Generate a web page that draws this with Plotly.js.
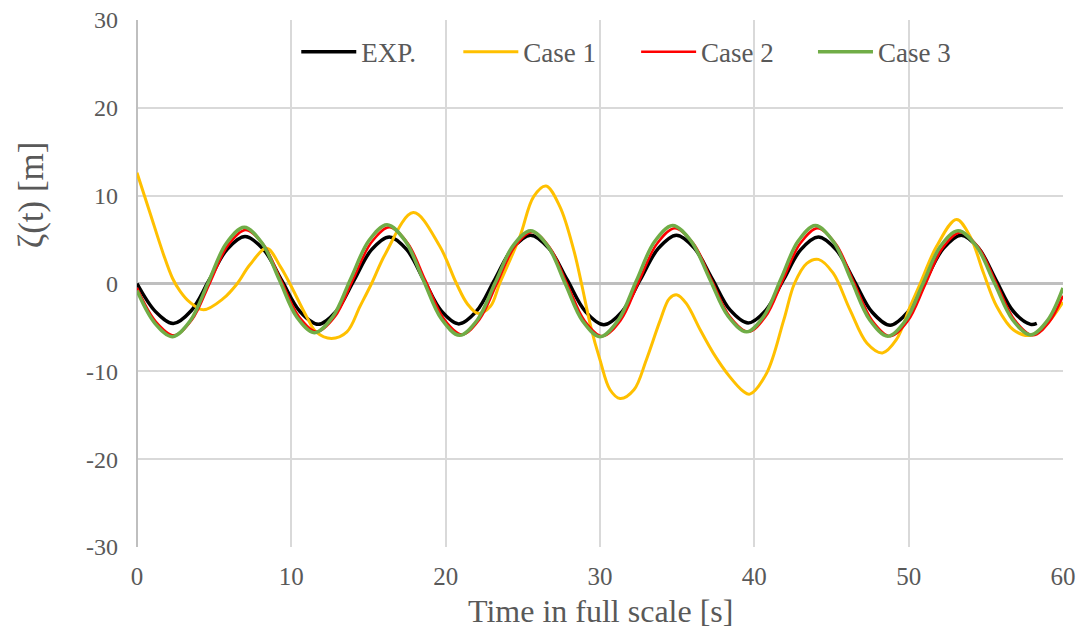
<!DOCTYPE html>
<html>
<head>
<meta charset="utf-8">
<script src="https://cdn.plot.ly/plotly-3.0.1.min.js"></script>
<style>
html,body{margin:0;padding:0;background:#fff;}
#chart{width:1079px;height:637px;}
#chart .xtick text, #chart .ytick text {font-family: "Liberation Serif", "Times New Roman", serif !important;}
</style>
</head>
<body>
<div id="chart"></div>
<script>
// EXP. (experiment)
const expT = [0,1.2,2.35,3.51,4.68,5.84,7.0,8.19,9.38,10.56,11.75,12.9,14.05,15.2,16.35,17.48,18.6,19.73,20.85,22.01,23.18,24.34,25.5,26.69,27.88,29.06,30.25,31.43,32.6,33.78,34.95,36.11,37.28,38.44,39.6,40.74,41.88,43.01,44.15,45.31,46.48,47.64,48.8,49.95,51.1,52.25,53.4,54.53,55.65,56.78,57.9,58.3];
const expV = [0,-3.2,-4.55,-3.1,0.4,3.9,5.35,3.89,0.35,-3.19,-4.65,-3.19,0.33,3.85,5.3,3.85,0.35,-3.15,-4.6,-3.12,0.45,4.02,5.5,4.0,0.4,-3.2,-4.7,-3.2,0.4,4.0,5.5,4.04,0.5,-3.04,-4.5,-3.06,0.4,3.86,5.3,3.83,0.28,-3.27,-4.75,-3.24,0.38,4.0,5.5,4.02,0.43,-3.16,-4.65,-4.55];

// Case 1
const case1T = [0,0.85,1.7,2.3,2.8,3.4,4.3,5.6,6.5,7.3,8.4,9.3,9.9,11.0,11.6,12.6,13.6,14.45,15.2,16.1,17.9,19.6,20.7,21.4,22.1,22.9,23.5,24.8,25.7,26.5,27.4,28.3,28.8,29.4,30.0,30.65,31.3,32.2,33.0,33.9,34.5,35.0,35.6,36.5,37.35,38.4,39.3,39.7,40.8,41.9,42.6,43.4,44.15,45.1,46.2,47.3,48.3,49.2,50.1,50.75,51.8,53.1,54.0,54.85,55.7,56.8,57.9,59.0,60.0];
const case1V = [12.6,8.0,3.4,0.6,-0.9,-2.1,-3.0,-1.7,0,2.1,4.0,1.9,0,-3.8,-5.5,-6.25,-5.5,-2.6,0,3.4,8.07,4.3,0,-2.3,-3.4,-2.6,0,5.3,9.9,11.1,8.75,3.8,0,-4.9,-8.7,-12.1,-13.1,-12.1,-8.7,-4.2,-1.7,-1.3,-2.3,-5.3,-7.95,-10.6,-12.3,-12.6,-10.2,-4.2,0,2.3,2.75,1.2,-3.0,-6.8,-7.9,-6.4,-2.6,0,4.2,7.3,5.3,1.2,-2.6,-5.3,-5.9,-4.5,-2.1];

// Case 2
const case2T = [0,1.2,2.4,3.56,4.73,5.89,7.05,8.2,9.35,10.5,11.65,12.83,14.0,15.18,16.35,17.53,18.7,19.88,21.05,22.19,23.33,24.46,25.6,26.74,27.88,29.01,30.15,31.33,32.5,33.68,34.85,36.04,37.23,38.41,39.6,40.73,41.85,42.98,44.1,45.28,46.45,47.63,48.8,49.94,51.08,52.21,53.35,54.53,55.7,56.88,58.05,59.1,60.0];
const case2V = [-0.5,-4.3,-5.9,-4.14,0.1,4.34,6.1,4.4,0.3,-3.8,-5.5,-3.76,0.45,4.66,6.4,4.61,0.3,-4.01,-5.8,-4.09,0.03,4.15,5.85,4.11,-0.08,-4.27,-6.0,-4.2,0.15,4.5,6.3,4.57,0.4,-3.77,-5.5,-3.77,0.4,4.57,6.3,4.5,0.15,-4.2,-6.0,-4.27,-0.1,4.07,5.8,4.09,-0.05,-4.19,-5.9,-4.4,-1.4];

// Case 3
const case3T = [0,1.15,2.3,3.46,4.63,5.79,6.95,8.09,9.23,10.36,11.5,12.68,13.85,15.03,16.2,17.38,18.55,19.73,20.9,22.05,23.2,24.35,25.5,26.63,27.75,28.88,30.0,31.18,32.35,33.53,34.7,35.9,37.1,38.3,39.5,40.61,41.73,42.84,43.95,45.13,46.3,47.48,48.65,49.79,50.93,52.06,53.2,54.38,55.55,56.73,57.9,59.0,60.0];
const case3V = [-0.8,-4.5,-6.05,-4.22,0.18,4.58,6.4,4.64,0.4,-3.84,-5.6,-3.8,0.55,4.9,6.7,4.85,0.4,-4.05,-5.9,-4.15,0.05,4.25,6.0,4.23,-0.03,-4.29,-6.05,-4.19,0.28,4.75,6.6,4.83,0.55,-3.73,-5.5,-3.73,0.55,4.83,6.6,4.75,0.3,-4.15,-6.0,-4.24,0,4.24,6.0,4.27,0.08,-4.11,-5.85,-4.2,-0.5];

const seriesNames = ['EXP.','Case 1','Case 2','Case 3'];
const xTicks = [0,10,20,30,40,50,60];
const yTicks = [-30,-20,-10,0,10,20,30];

const FONT = 'Liberation Serif';
const GREY = '#595959';

function tr(x, y, name, color, width, leg) {
  return {x: x, y: y, name: name, type: 'scatter', mode: 'lines', legend: leg,
    line: {color: color, width: width, shape: 'spline', smoothing: 1}};
}

const data = [
  tr(expT, expV, seriesNames[0], '#000000', 3.5, 'legend'),
  tr(case1T, case1V, seriesNames[1], '#FFC000', 3, 'legend2'),
  tr(case2T, case2V, seriesNames[2], '#FF0000', 2.5, 'legend3'),
  tr(case3T, case3V, seriesNames[3], '#70AD47', 3.5, 'legend4')
];

function leg(x) {
  return {orientation: 'h', x: x, xanchor: 'left', y: 0.939, yanchor: 'middle',
    font: {family: FONT, size: 27, color: GREY}, bgcolor: 'rgba(0,0,0,0)',
    borderwidth: 0, itemwidth: 55};
}

const layout = {
  width: 1079, height: 637,
  margin: {l: 137, r: 16, t: 20, b: 90},
  paper_bgcolor: '#ffffff', plot_bgcolor: '#ffffff',
  font: {family: FONT, color: GREY},
  showlegend: true,
  legend: leg(0.172), legend2: leg(0.347), legend3: leg(0.539), legend4: leg(0.730),
  xaxis: {range: [0, 60], tickvals: xTicks, ticktext: xTicks.map(String), ticks: '',
    showgrid: true, gridcolor: '#d9d9d9', gridwidth: 2,
    zeroline: true, zerolinecolor: '#bfbfbf', zerolinewidth: 2.5,
    showline: false, ticklabelstandoff: 12,
    tickfont: {family: FONT, size: 25, color: GREY}, fixedrange: true},
  yaxis: {range: [-30, 30], tickvals: yTicks, ticktext: yTicks.map(String), ticks: '',
    showgrid: true, gridcolor: '#d9d9d9', gridwidth: 2,
    zeroline: true, zerolinecolor: '#bfbfbf', zerolinewidth: 2.5,
    showline: false, ticklabelstandoff: 18,
    tickfont: {family: FONT, size: 24, color: GREY}, fixedrange: true},
  annotations: [
    {text: 'ζ(t) [m]', xref: 'paper', yref: 'paper', x: -0.113, y: 0.668,
     xanchor: 'center', yanchor: 'middle', textangle: -90, showarrow: false,
     font: {family: FONT, size: 35, color: GREY}},
    {text: 'Time in full scale [s]', xref: 'paper', yref: 'paper', x: 0.5, y: -0.121,
     xanchor: 'center', yanchor: 'middle', showarrow: false,
     font: {family: FONT, size: 32, color: GREY}}
  ]
};

Plotly.newPlot('chart', data, layout, {displayModeBar: false, staticPlot: true});
</script>
</body>
</html>
